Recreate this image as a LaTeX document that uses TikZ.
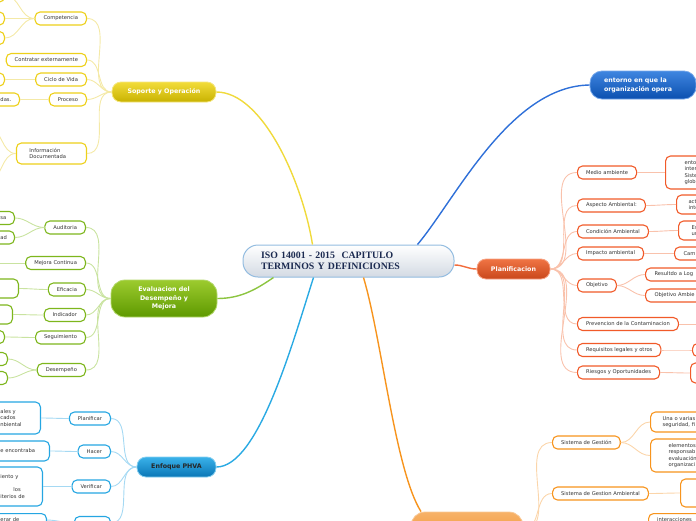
\documentclass[tikz,border=0pt]{standalone}
\usepackage{fontspec}
\setmainfont{DejaVu Sans}
\newfontfamily\titlefont{Liberation Serif}
\usepackage{xcolor}
\usepackage{tikz}
\definecolor{isoTop}{HTML}{FFFFFF}
\definecolor{isoBot}{HTML}{D3DAE3}
\definecolor{isoEdge}{HTML}{93BCE0}
\definecolor{isoText}{HTML}{1B2A50}
\definecolor{sopTop}{HTML}{F2DC3A}
\definecolor{sopBot}{HTML}{C8B200}
\definecolor{sopEdge}{HTML}{F5E67E}
\definecolor{sopLeaf}{HTML}{EDD01A}
\definecolor{sopTwig}{HTML}{F4E9A6}
\definecolor{sopLink}{HTML}{F0DA3C}
\definecolor{evaTop}{HTML}{9CCB2E}
\definecolor{evaBot}{HTML}{5E9900}
\definecolor{evaEdge}{HTML}{B3D86A}
\definecolor{evaLeaf}{HTML}{7DB61C}
\definecolor{evaTwig}{HTML}{C9E3A0}
\definecolor{evaLink}{HTML}{8CC540}
\definecolor{phvTop}{HTML}{3AB2EA}
\definecolor{phvBot}{HTML}{0A76B6}
\definecolor{phvEdge}{HTML}{86CFF0}
\definecolor{phvLeaf}{HTML}{25A6E2}
\definecolor{phvTwig}{HTML}{A5D9F3}
\definecolor{phvLink}{HTML}{2AAAE3}
\definecolor{entTop}{HTML}{3F86E0}
\definecolor{entBot}{HTML}{0B4FAF}
\definecolor{entEdge}{HTML}{75A7EA}
\definecolor{entLink}{HTML}{2F70D8}
\definecolor{plaTop}{HTML}{F07444}
\definecolor{plaBot}{HTML}{C9471B}
\definecolor{plaEdge}{HTML}{F7A384}
\definecolor{plaLeaf}{HTML}{F15A29}
\definecolor{plaTwig}{HTML}{F9C2AC}
\definecolor{plaLink}{HTML}{F26B3B}
\definecolor{gesTop}{HTML}{F7B268}
\definecolor{gesBot}{HTML}{F08C2A}
\definecolor{gesEdge}{HTML}{F9C895}
\definecolor{gesLeaf}{HTML}{F7941D}
\definecolor{gesTwig}{HTML}{FBD5AA}
\definecolor{gesLink}{HTML}{F7941D}
\tikzset{ iso_box/.style = {rectangle, rounded corners=15pt, draw=isoEdge, line width=1pt, top color=isoTop, bottom color=isoBot, text=isoText, font=\titlefont\fontsize{9.8}{10.5}\selectfont\bfseries, align=left, text width=175pt, inner xsep=18pt, minimum width=211pt, minimum height=32pt} }
\tikzset{ main_topic/.style = {rectangle, rounded corners=9pt, draw, line width=0.8pt, text=white, font=\fontsize{6.3}{8.6}\selectfont\bfseries, align=center, minimum height=20pt, inner sep=2pt} }
\tikzset{ sub_topic/.style = {rectangle, rounded corners=5pt, draw, line width=1.1pt, fill=white, text=black!80, font=\fontsize{5.2}{6.5}\selectfont, minimum height=13pt, inner xsep=8.5pt, inner ysep=1.5pt} }
\tikzset{ sop_leaf/.style = {sub_topic, draw=sopLeaf} }
\tikzset{ eva_leaf/.style = {sub_topic, draw=evaLeaf} }
\tikzset{ phv_leaf/.style = {sub_topic, draw=phvLeaf} }
\tikzset{ pla_leaf/.style = {sub_topic, draw=plaLeaf} }
\tikzset{ ges_leaf/.style = {sub_topic, draw=gesLeaf} }
\tikzset{ link/.style = {line width=1.4pt} }
\tikzset{ twig/.style = {line width=0.9pt} }
\begin{document}
\begin{tikzpicture}[x=1pt, y=-1pt]
\useasboundingbox (0,0) rectangle (696,520);
\clip (0,0) rectangle (696,520);

% centre and main topics
\node[iso_box] (iso) at (348.5,261) {ISO 14001 - 2015\ \ CAPITULO\\TERMINOS Y DEFINICIONES};
\node[main_topic, top color=sopTop, bottom color=sopBot, draw=sopEdge, minimum width=104pt] (sop) at (164,92) {Soporte y Operación};
\node[main_topic, top color=evaTop, bottom color=evaBot, draw=evaEdge, minimum width=106pt, minimum height=37pt, rounded corners=14pt] (eva) at (164,298.5) {Evaluacion del\\Desempeño y\\Mejora};
\node[main_topic, top color=phvTop, bottom color=phvBot, draw=phvEdge, minimum width=79pt, text=black!85] (phva) at (176.5,467) {Enfoque PHVA};
\node[main_topic, top color=entTop, bottom color=entBot, draw=entEdge, minimum width=106pt, minimum height=28pt, rounded corners=12pt, align=left, text width=78pt, inner xsep=14pt] (ent) at (643,85) {entorno en que la\\organización opera};
\node[main_topic, top color=plaTop, bottom color=plaBot, draw=plaEdge, minimum width=73pt] (pla) at (513.5,269) {Planificacion};
\node[main_topic, top color=gesTop, bottom color=gesBot, draw=gesEdge, minimum width=112pt, minimum height=36pt, rounded corners=14pt] (ges) at (467,530) {};

% soporte y operacion
\node[sop_leaf, anchor=east] (comp) at (87,18.5) {Competencia};
\node[sop_leaf, anchor=east] (contr) at (87,60) {Contratar externamente};
\node[sop_leaf, anchor=east] (ciclo) at (87,79.5) {Ciclo de Vida};
\node[sop_leaf, anchor=east] (proc) at (87,99.5) {Proceso};
\node[sop_leaf, anchor=east, minimum height=21pt, text width=44pt, inner xsep=13pt, align=left] (info) at (87,153.5) {Información\\Documentada};
\node[sop_leaf, anchor=east, minimum width=17pt] (comp1) at (5,-4.5) {};
\node[sop_leaf, anchor=east, minimum width=17pt] (comp2) at (5,18.5) {};
\node[sop_leaf, anchor=east, minimum width=17pt] (comp3) at (5,38) {};
\node[sop_leaf, anchor=east, minimum width=17pt] (ciclo1) at (5,79.5) {};
\node[sop_leaf, anchor=east, text width=15pt, align=left] (proc1) at (20,99.5) {\leftskip=4.5pt\relax das.\par};
\coordinate (info1) at (-12,128);
\coordinate (info2) at (-12,180);

% evaluacion del desempeno
\node[eva_leaf, anchor=east] (aud) at (86,227.5) {Auditoria};
\node[eva_leaf, anchor=east] (mej) at (86,263) {Mejora Continua};
\node[eva_leaf, anchor=east] (efi) at (86,289.5) {Eficacia};
\node[eva_leaf, anchor=east] (ind) at (86,315) {Indicador};
\node[eva_leaf, anchor=east] (seg) at (86,337.5) {Seguimiento};
\node[eva_leaf, anchor=east] (des) at (86,370) {Desempeño};
\node[eva_leaf, anchor=east, text width=10pt, align=left] (aud1) at (15,218) {\leftskip=4.5pt\relax sa\par};
\node[eva_leaf, anchor=east, text width=10pt, align=left] (aud2) at (15,237.5) {\leftskip=4.5pt\relax ad\par};
\coordinate (mej1) at (-12,263);
\node[eva_leaf, anchor=east, minimum width=31pt, minimum height=19pt] (efi1) at (19,288.5) {};
\node[eva_leaf, anchor=east, minimum width=25pt, minimum height=19pt] (ind1) at (13,314.5) {};
\node[eva_leaf, anchor=east, minimum width=17pt] (seg1) at (5,337) {};
\node[eva_leaf, anchor=east, minimum width=20pt] (des1) at (8,359) {};
\node[eva_leaf, anchor=east, minimum width=20pt] (des2) at (8,378) {};

% enfoque PHVA
\node[phv_leaf, anchor=east] (plan) at (111,418.5) {Planificar};
\node[phv_leaf, anchor=east] (hac) at (111,451.5) {Hacer};
\node[phv_leaf, anchor=east] (ver) at (111,486.5) {Verificar};
\node[phv_leaf, anchor=east, minimum width=36pt] (act) at (111,523) {};
\node[phv_leaf, anchor=east, minimum height=32pt, text width=36pt, align=left] (plan1) at (41,418) {\leftskip=4.5pt\relax ales y\\cados\\nbiental\par};
\node[phv_leaf, anchor=east, minimum height=20pt, text width=45pt, align=left] (hac1) at (50,451) {\leftskip=4.5pt\relax e encontraba\par};
\node[phv_leaf, anchor=east, minimum height=39pt, text width=38pt, align=left] (ver1) at (43,486.5) {\leftskip=4.5pt\relax iento y\\\mbox{}\\\hspace*{13pt}los\\iterios de\par};
\node[phv_leaf, anchor=north east, text width=42pt, align=left] (act1) at (47,513) {\leftskip=4.5pt\relax erar de\par};

% planificacion
\node[pla_leaf, anchor=west] (med) at (577,172.5) {Medio ambiente};
\node[pla_leaf, anchor=west] (asp) at (577,205.5) {Aspecto Ambiental:};
\node[pla_leaf, anchor=west] (cond) at (577,231.5) {Condición Ambiental};
\node[pla_leaf, anchor=west] (imp) at (577,253.5) {Impacto ambiental};
\node[pla_leaf, anchor=west] (obj) at (577,285.5) {Objetivo};
\node[pla_leaf, anchor=west] (prev) at (577,324) {Prevencion de la Contaminacion};
\node[pla_leaf, anchor=west] (req) at (577,350) {Requisitos legales y otros};
\node[pla_leaf, anchor=west] (rie) at (577,372.5) {Riesgos y Oportunidades};
\node[pla_leaf, anchor=west, minimum height=33pt, text width=60pt, align=left] (med1) at (665,172.5) {\leftskip=10.5pt\relax ento\\inter\\Siste\\glob\par};
\node[pla_leaf, anchor=west, minimum height=19pt, text width=60pt, align=left] (asp1) at (676,204.5) {\leftskip=3.5pt\relax act\\inte\par};
\node[pla_leaf, anchor=west, minimum height=19pt, text width=60pt, align=left] (cond1) at (678,230.5) {\leftskip=4.5pt\relax Es\\un\par};
\node[pla_leaf, anchor=west, text width=60pt, align=left] (imp1) at (674,253.5) {\leftskip=0.5pt\relax Cam\par};
\node[pla_leaf, anchor=west, text width=60pt, align=left] (obj1) at (645,274.5) {\leftskip=0.5pt\relax Resultdo a Log\par};
\node[pla_leaf, anchor=west, text width=60pt, align=left] (obj2) at (645,295.5) {\leftskip=0.5pt\relax Objetivo Ambie\par};
\coordinate (prev1) at (720,324);
\node[pla_leaf, anchor=west, minimum width=40pt] (req1) at (692,350) {};
\node[pla_leaf, anchor=west, minimum width=40pt, minimum height=20pt] (rie1) at (690,373) {};

% sistema de gestion
\node[ges_leaf, anchor=west] (sg) at (552,442.5) {Sistema de Gestión};
\node[ges_leaf, anchor=west] (sga) at (552,493.5) {Sistema de Gestion Ambiental};
\node[ges_leaf, anchor=west, minimum height=20pt, text width=60pt, align=left] (sg1) at (650,422) {\leftskip=3.5pt\relax Una o varias\\seguridad, fi\par};
\node[ges_leaf, anchor=west, minimum height=33pt, text width=60pt, align=left] (sg2) at (650,455.5) {\leftskip=9.5pt\relax elementos\\responsab\\evaluación\\organizaci\par};
\node[ges_leaf, anchor=west, minimum width=40pt, minimum height=28pt] (sga1) at (680,493) {};
\node[ges_leaf, anchor=north west, text width=60pt, align=left] (int1) at (648,513) {interacciones};

% main links
\draw[link, sopLink] (sop.east) .. controls (262,92) and (302,180) .. ([xshift=-36pt]iso.north);
\draw[link, entLink] ([xshift=69pt]iso.north) .. controls (455,200) and (510,86) .. (ent.west);
\draw[link, plaLink] ([yshift=-4pt]iso.east) to[out=0,in=180] (pla.west);
\draw[link, gesLink] ([xshift=15pt]iso.south) .. controls (382,340) and (395,470) .. ([xshift=-46pt]ges.north);
\draw[link, evaLink] ([xshift=-75pt]iso.south) .. controls (258,288) and (242,298.5) .. (eva.east);
\draw[link, phvLink] ([xshift=-35pt]iso.south) .. controls (292,345) and (258,467) .. (phva.east);

% twigs
\draw[twig, sopTwig] (sop.west) to[out=180,in=0] (comp.east);
\draw[twig, sopTwig] (sop.west) to[out=180,in=0] (contr.east);
\draw[twig, sopTwig] (sop.west) to[out=180,in=0] (ciclo.east);
\draw[twig, sopTwig] (sop.west) to[out=180,in=0] (proc.east);
\draw[twig, sopTwig] (sop.west) to[out=180,in=0] (info.east);
\draw[twig, sopTwig] (comp.west) to[out=180,in=0] (comp1.east);
\draw[twig, sopTwig] (comp.west) to[out=180,in=0] (comp2.east);
\draw[twig, sopTwig] (comp.west) to[out=180,in=0] (comp3.east);
\draw[twig, sopTwig] (ciclo.west) -- (ciclo1.east);
\draw[twig, sopTwig] (proc.west) -- (proc1.east);
\draw[twig, sopTwig] (info.west) to[out=180,in=0] (info1);
\draw[twig, sopTwig] (info.west) to[out=180,in=0] (info2);

\draw[twig, evaTwig] (eva.west) to[out=180,in=0] (aud.east);
\draw[twig, evaTwig] (eva.west) to[out=180,in=0] (mej.east);
\draw[twig, evaTwig] (eva.west) to[out=180,in=0] (efi.east);
\draw[twig, evaTwig] (eva.west) to[out=180,in=0] (ind.east);
\draw[twig, evaTwig] (eva.west) to[out=180,in=0] (seg.east);
\draw[twig, evaTwig] (eva.west) to[out=180,in=0] (des.east);
\draw[twig, evaTwig] (aud.west) to[out=180,in=0] (aud1.east);
\draw[twig, evaTwig] (aud.west) to[out=180,in=0] (aud2.east);
\draw[twig, evaTwig] (mej.west) -- (mej1);
\draw[twig, evaTwig] (efi.west) to[out=180,in=0] (efi1.east);
\draw[twig, evaTwig] (ind.west) to[out=180,in=0] (ind1.east);
\draw[twig, evaTwig] (seg.west) to[out=180,in=0] (seg1.east);
\draw[twig, evaTwig] (des.west) to[out=180,in=0] (des1.east);
\draw[twig, evaTwig] (des.west) to[out=180,in=0] (des2.east);

\draw[twig, phvTwig] (phva.west) to[out=180,in=0] (plan.east);
\draw[twig, phvTwig] (phva.west) to[out=180,in=0] (hac.east);
\draw[twig, phvTwig] (phva.west) to[out=180,in=0] (ver.east);
\draw[twig, phvTwig] (phva.west) to[out=180,in=0] (act.east);
\draw[twig, phvTwig] (plan.west) to[out=180,in=0] (plan1.east);
\draw[twig, phvTwig] (hac.west) to[out=180,in=0] (hac1.east);
\draw[twig, phvTwig] (ver.west) to[out=180,in=0] (ver1.east);
\draw[twig, phvTwig] (act.west) to[out=180,in=0] (act1.east);

\draw[twig, plaTwig] (pla.east) to[out=0,in=180] (med.west);
\draw[twig, plaTwig] (pla.east) to[out=0,in=180] (asp.west);
\draw[twig, plaTwig] (pla.east) to[out=0,in=180] (cond.west);
\draw[twig, plaTwig] (pla.east) to[out=0,in=180] (imp.west);
\draw[twig, plaTwig] (pla.east) to[out=0,in=180] (obj.west);
\draw[twig, plaTwig] (pla.east) to[out=0,in=180] (prev.west);
\draw[twig, plaTwig] (pla.east) to[out=0,in=180] (req.west);
\draw[twig, plaTwig] (pla.east) to[out=0,in=180] (rie.west);
\draw[twig, plaTwig] (med.east) to[out=0,in=180] (med1.west);
\draw[twig, plaTwig] (asp.east) to[out=0,in=180] (asp1.west);
\draw[twig, plaTwig] (cond.east) to[out=0,in=180] (cond1.west);
\draw[twig, plaTwig] (imp.east) to[out=0,in=180] (imp1.west);
\draw[twig, plaTwig] (obj.east) to[out=0,in=180] (obj1.west);
\draw[twig, plaTwig] (obj.east) to[out=0,in=180] (obj2.west);
\draw[twig, plaTwig] (prev.east) -- (prev1);
\draw[twig, plaTwig] (req.east) to[out=0,in=180] (req1.west);
\draw[twig, plaTwig] (rie.east) to[out=0,in=180] (rie1.west);

\draw[twig, gesTwig] (ges.east) to[out=0,in=180] (sg.west);
\draw[twig, gesTwig] (ges.east) to[out=0,in=180] (sga.west);
\draw[twig, gesTwig] (sg.east) to[out=0,in=180] (sg1.west);
\draw[twig, gesTwig] (sg.east) to[out=0,in=180] (sg2.west);
\draw[twig, gesTwig] (sga.east) to[out=0,in=180] (sga1.west);
\end{tikzpicture}
\end{document}
